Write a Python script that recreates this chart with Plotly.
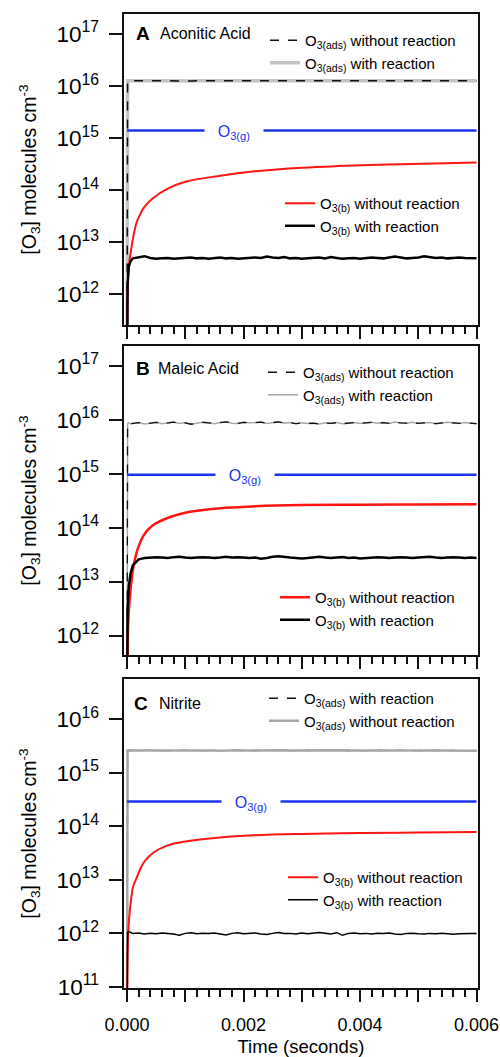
import plotly.graph_objects as go
import math

# ---------------- data ----------------
# common time grid for the noisy / flat series (seconds)
T_NOISE = [0, 0.00001, 0.00003, 0.00006,
           0.0001, 0.0002, 0.0003, 0.0004, 0.0005, 0.0006, 0.0007, 0.0008, 0.0009, 0.0010,
           0.0011, 0.0012, 0.0013, 0.0014, 0.0015, 0.0016, 0.0017, 0.0018, 0.0019, 0.0020,
           0.0021, 0.0022, 0.0023, 0.0024, 0.0025, 0.0026, 0.0027, 0.0028, 0.0029, 0.0030,
           0.0031, 0.0032, 0.0033, 0.0034, 0.0035, 0.0036, 0.0037, 0.0038, 0.0039, 0.0040,
           0.0041, 0.0042, 0.0043, 0.0044, 0.0045, 0.0046, 0.0047, 0.0048, 0.0049, 0.0050,
           0.0051, 0.0052, 0.0053, 0.0054, 0.0055, 0.0056, 0.0057, 0.0058, 0.0059, 0.0060]

# Panel A - Aconitic Acid
A_ADS = [1e10, 1.26e16, 1.26e16, 1.25e16,
         1.26e16, 1.27e16, 1.25e16, 1.26e16, 1.27e16, 1.26e16, 1.25e16, 1.26e16, 1.27e16, 1.26e16,
         1.25e16, 1.26e16, 1.26e16, 1.27e16, 1.25e16, 1.26e16, 1.26e16, 1.27e16, 1.26e16, 1.25e16,
         1.26e16, 1.27e16, 1.26e16, 1.26e16, 1.25e16, 1.26e16, 1.27e16, 1.26e16, 1.25e16, 1.26e16,
         1.26e16, 1.27e16, 1.26e16, 1.25e16, 1.26e16, 1.26e16, 1.27e16, 1.26e16, 1.25e16, 1.26e16,
         1.27e16, 1.26e16, 1.26e16, 1.25e16, 1.26e16, 1.27e16, 1.26e16, 1.25e16, 1.26e16, 1.26e16,
         1.27e16, 1.26e16, 1.25e16, 1.26e16, 1.26e16, 1.27e16, 1.26e16, 1.25e16, 1.26e16, 1.26e16]
A_B_RXN = [1e10, 1.5e12, 3.4e12, 4.3e12,
           4.9e12, 5.2e12, 5.4e12, 5.0e12, 4.8e12, 4.9e12, 5.0e12, 4.8e12, 4.9e12, 5.0e12,
           5.1e12, 4.9e12, 5.0e12, 4.8e12, 5.0e12, 5.1e12, 4.9e12, 5.0e12, 4.8e12, 4.9e12,
           5.0e12, 5.1e12, 5.0e12, 5.3e12, 5.1e12, 5.0e12, 5.2e12, 4.9e12, 5.0e12, 4.8e12,
           4.9e12, 5.0e12, 5.1e12, 4.9e12, 5.2e12, 5.0e12, 4.8e12, 4.9e12, 5.0e12, 4.8e12,
           4.9e12, 5.1e12, 5.0e12, 4.9e12, 5.1e12, 5.3e12, 5.1e12, 4.9e12, 5.0e12, 5.1e12,
           5.4e12, 5.2e12, 5.0e12, 5.1e12, 4.9e12, 5.0e12, 5.1e12, 5.0e12, 4.9e12, 4.9e12]
A_T_RED = [0, 0.00001, 0.00003, 0.00005, 0.00008, 0.00012, 0.00017, 0.00024, 0.0003, 0.00045,
           0.0007, 0.001, 0.0016, 0.0022, 0.003, 0.0036, 0.0047, 0.006]
A_B_NORXN = [1e10, 1.0e12, 3.2e12, 5.0e12, 8.3e12, 1.5e13, 2.5e13, 3.7e13, 4.8e13, 7.1e13,
             1.07e14, 1.45e14, 1.9e14, 2.3e14, 2.7e14, 2.9e14, 3.16e14, 3.4e14]
A_GAS = 1.4e15

# Panel B - Maleic Acid
B_ADS = [1e10, 8.6e15, 8.8e15, 8.5e15,
         8.6e15, 8.9e15, 8.4e15, 8.8e15, 9.0e15, 8.5e15, 8.7e15, 9.1e15, 8.6e15, 8.8e15,
         8.3e15, 8.7e15, 9.0e15, 8.8e15, 8.5e15, 8.9e15, 9.2e15, 8.7e15, 8.6e15, 9.0e15,
         8.8e15, 8.9e15, 9.1e15, 8.6e15, 8.8e15, 9.2e15, 8.7e15, 8.9e15, 8.5e15, 8.8e15,
         8.6e15, 8.7e15, 8.4e15, 8.8e15, 8.6e15, 8.9e15, 8.5e15, 8.7e15, 8.9e15, 8.6e15,
         8.8e15, 9.0e15, 8.7e15, 8.9e15, 8.6e15, 9.1e15, 8.8e15, 8.7e15, 9.0e15, 8.6e15,
         8.8e15, 8.9e15, 8.5e15, 8.7e15, 9.0e15, 8.8e15, 8.6e15, 8.9e15, 8.7e15, 8.5e15]
B_B_RXN = [1e10, 3.0e12, 8.0e12, 1.4e13,
           2.0e13, 2.6e13, 2.75e13, 2.8e13, 2.85e13, 2.8e13, 2.75e13, 2.85e13, 2.9e13, 2.8e13,
           2.75e13, 2.8e13, 2.85e13, 2.8e13, 2.75e13, 2.8e13, 2.9e13, 2.8e13, 2.85e13, 2.8e13,
           2.75e13, 2.8e13, 2.65e13, 2.75e13, 2.9e13, 2.95e13, 2.85e13, 2.8e13, 2.75e13, 2.7e13,
           2.75e13, 2.8e13, 2.9e13, 2.8e13, 2.75e13, 2.8e13, 2.85e13, 2.75e13, 2.8e13, 2.7e13,
           2.75e13, 2.8e13, 2.85e13, 2.8e13, 2.75e13, 2.8e13, 2.85e13, 2.8e13, 2.75e13, 2.8e13,
           2.85e13, 2.9e13, 2.8e13, 2.75e13, 2.8e13, 2.85e13, 2.8e13, 2.75e13, 2.8e13, 2.75e13]
B_T_RED = [0, 0.00002, 0.00005, 0.00008, 0.00011, 0.00017, 0.00024, 0.00031, 0.00045, 0.00074,
           0.001, 0.0016, 0.0022, 0.003, 0.004, 0.005, 0.006]
B_B_NORXN = [1e10, 1.6e12, 5.2e12, 1.1e13, 1.9e13, 3.6e13, 5.8e13, 7.9e13, 1.12e14, 1.58e14,
             1.9e14, 2.3e14, 2.5e14, 2.63e14, 2.68e14, 2.7e14, 2.72e14]
B_GAS = 9.6e14

# Panel C - Nitrite
C_ADS = [1e10, 2.6e15, 2.6e15, 2.58e15,
         2.62e15, 2.6e15, 2.57e15, 2.61e15, 2.6e15, 2.63e15, 2.59e15, 2.6e15, 2.62e15, 2.58e15,
         2.6e15, 2.61e15, 2.59e15, 2.63e15, 2.6e15, 2.58e15, 2.61e15, 2.6e15, 2.62e15, 2.59e15,
         2.6e15, 2.63e15, 2.6e15, 2.58e15, 2.61e15, 2.6e15, 2.62e15, 2.59e15, 2.6e15, 2.61e15,
         2.58e15, 2.6e15, 2.62e15, 2.6e15, 2.59e15, 2.61e15, 2.63e15, 2.6e15, 2.58e15, 2.6e15,
         2.61e15, 2.59e15, 2.6e15, 2.62e15, 2.6e15, 2.58e15, 2.61e15, 2.6e15, 2.63e15, 2.59e15,
         2.6e15, 2.57e15, 2.6e15, 2.61e15, 2.59e15, 2.6e15, 2.58e15, 2.6e15, 2.57e15, 2.58e15]
C_B_RXN = [1e10, 1.04e12, 1.08e12, 1.03e12,
           1.0e12, 1.02e12, 0.97e12, 1.01e12, 0.98e12, 1.02e12, 1.0e12, 0.97e12, 0.92e12, 1.0e12,
           1.03e12, 0.98e12, 1.01e12, 0.99e12, 1.02e12, 0.97e12, 0.93e12, 1.0e12, 1.03e12, 0.98e12,
           1.0e12, 1.02e12, 0.97e12, 0.95e12, 1.0e12, 1.04e12, 0.99e12, 1.0e12, 0.97e12, 1.02e12,
           0.98e12, 1.0e12, 1.04e12, 1.01e12, 0.97e12, 1.03e12, 0.92e12, 1.0e12, 1.02e12, 0.98e12,
           1.0e12, 0.97e12, 1.01e12, 0.99e12, 1.02e12, 0.97e12, 0.95e12, 1.0e12, 1.01e12, 0.98e12,
           0.97e12, 1.0e12, 0.98e12, 1.01e12, 0.97e12, 0.96e12, 0.98e12, 1.0e12, 0.99e12, 1.0e12]
C_T_RED = [0, 0.00002, 0.00005, 0.00008, 0.0001, 0.00017, 0.00024, 0.0003, 0.00045, 0.0007,
           0.001, 0.0016, 0.0022, 0.003, 0.004, 0.005, 0.006]
C_B_NORXN = [1e10, 1.0e12, 2.8e12, 5.2e12, 7.1e12, 1.12e13, 1.7e13, 2.2e13, 3.2e13, 4.4e13,
             5.2e13, 6.2e13, 6.8e13, 7.2e13, 7.5e13, 7.65e13, 7.8e13]
C_GAS = 2.9e14

PANEL_LETTERS = ["A", "B", "C"]
PANEL_NAMES = ["Aconitic Acid", "Maleic Acid", "Nitrite"]
X_TICKS = [0, 0.001, 0.002, 0.003, 0.004, 0.005, 0.006]
X_TICKTEXT = ["0.000", "", "0.002", "", "0.004", "", "0.006"]

# ---------------- style ----------------
FONT = "Liberation Sans, Arial, Helvetica, sans-serif"
BLUE = "#1c34f0"
RED = "#ff1414"
W, H = 500, 1057

def py(px):  # pixel row -> paper fraction
    return 1 - px / H

X_DOM = [123.5 / W, 478.3 / W]
Y_DOMS = [[py(325), py(14)], [py(655), py(346)], [py(988), py(679)]]
Y_RANGES = [[11.41, 17.385], [11.64, 17.37], [10.98, 16.75]]
X_RANGE = [-0.00006, 0.00603]

ADS = "O<sub>3(ads)</sub>"
BULK = "O<sub>3(b)</sub>"

fig = go.Figure()

def add(x, y, panel, legend, name, color, width, dash="solid", rank=1, show=True, shape="linear"):
    sfx = "" if panel == 0 else str(panel + 1)
    fig.add_trace(go.Scatter(
        x=x, y=y, mode="lines", name=name,
        line=dict(color=color, width=width, dash=dash, shape=shape),
        xaxis="x" + sfx, yaxis="y" + sfx,
        legend=legend, legendrank=rank, showlegend=show, hoverinfo="skip"))

# Panel A
add(T_NOISE, A_ADS, 0, "legend", ADS + " with reaction", "#c4c4c4", 3.5, rank=2)
add(T_NOISE, A_ADS, 0, "legend", ADS + " without reaction", "#111111", 1.5, "dash", rank=1)
add([0, 0.006], [A_GAS, A_GAS], 0, "legend", "gas", BLUE, 2.5, show=False)
add(A_T_RED, A_B_NORXN, 0, "legend2", BULK + " without reaction", RED, 2, rank=1, shape="spline")
add(T_NOISE, A_B_RXN, 0, "legend2", BULK + " with reaction", "#000000", 2.5, rank=2)

# Panel B
add(T_NOISE, B_ADS, 1, "legend3", ADS + " with reaction", "#a8a8a8", 1.5, rank=2)
add(T_NOISE, B_ADS, 1, "legend3", ADS + " without reaction", "#111111", 1.3, "dash", rank=1)
add([0, 0.006], [B_GAS, B_GAS], 1, "legend3", "gas", BLUE, 2.5, show=False)
add(B_T_RED, B_B_NORXN, 1, "legend4", BULK + " without reaction", RED, 2.5, rank=1, shape="spline")
add(T_NOISE, B_B_RXN, 1, "legend4", BULK + " with reaction", "#000000", 2.5, rank=2)

# Panel C
add(T_NOISE, C_ADS, 2, "legend5", ADS + " with reaction", "#111111", 1.3, "dash", rank=1)
add(T_NOISE, C_ADS, 2, "legend5", ADS + " without reaction", "#a8a8a8", 2.5, rank=2)
add([0, 0.006], [C_GAS, C_GAS], 2, "legend5", "gas", BLUE, 2.5, show=False)
add(C_T_RED, C_B_NORXN, 2, "legend6", BULK + " without reaction", RED, 2, rank=1, shape="spline")
add(T_NOISE, C_B_RXN, 2, "legend6", BULK + " with reaction", "#000000", 1.5, rank=2)

layout = dict(
    width=W, height=H, margin=dict(l=0, r=0, t=0, b=0),
    paper_bgcolor="white", plot_bgcolor="white",
    font=dict(family=FONT, size=15, color="black"),
    annotations=[],
)

ytitle = "[O<sub>3</sub>] molecules cm<sup>-3</sup>"
for i in range(3):
    sfx = "" if i == 0 else str(i + 1)
    xa = dict(
        domain=X_DOM, range=X_RANGE, anchor="y" + sfx,
        showline=True, mirror=True, linecolor="#111", linewidth=1.5,
        showgrid=False, zeroline=False,
        tickmode="array", tickvals=X_TICKS,
        ticks="outside", ticklen=12, tickwidth=1.5, tickcolor="#111",
        tickfont=dict(size=18),
        minor=dict(tickmode="linear", tick0=0, dtick=0.0002, ticks="outside",
                   ticklen=7, tickwidth=1.5, tickcolor="#111", showgrid=False),
        automargin=False,
    )
    if i == 2:
        xa["ticktext"] = X_TICKTEXT
        xa["ticklabelstandoff"] = 8
        xa["title"] = dict(text="Time (seconds)", font=dict(size=18.5), standoff=8)
    else:
        xa["showticklabels"] = False
    layout["xaxis" + sfx] = xa
    layout["yaxis" + sfx] = dict(
        domain=Y_DOMS[i], type="log", range=Y_RANGES[i], anchor="x" + sfx,
        showline=True, mirror=True, linecolor="#111", linewidth=1.5,
        showgrid=False, zeroline=False, dtick=1,
        exponentformat="power", showexponent="all",
        ticks="outside", ticklen=13, tickwidth=1.5, tickcolor="#111",
        tickfont=dict(size=18), ticklabelstandoff=6,
        title=dict(text=ytitle, font=dict(size=19.5)),
        automargin=False,
    )

# legends (positions in paper coords)
leg_common = dict(bgcolor="rgba(0,0,0,0)", borderwidth=0, font=dict(size=15, family=FONT),
                  xanchor="left", yanchor="top", tracegroupgap=0, itemclick=False)
layout["legend"] = dict(leg_common, x=265 / W, y=py(24))
layout["legend2"] = dict(leg_common, x=280 / W, y=py(187))
layout["legend3"] = dict(leg_common, x=263 / W, y=py(356))
layout["legend4"] = dict(leg_common, x=275 / W, y=py(581))
layout["legend5"] = dict(leg_common, x=264 / W, y=py(682))
layout["legend6"] = dict(leg_common, x=283 / W, y=py(861))

# panel labels
label_pos = [(134, 34, 158), (134, 368, 156), (132, 703, 157)]
for i, (xl, yl, xn) in enumerate(label_pos):
    layout["annotations"].append(dict(
        x=xl / W, y=py(yl), xref="paper", yref="paper", xanchor="left", yanchor="middle",
        text="<b>" + PANEL_LETTERS[i] + "</b>", showarrow=False, font=dict(size=19)))
    layout["annotations"].append(dict(
        x=xn / W, y=py(yl), xref="paper", yref="paper", xanchor="left", yanchor="middle",
        text=PANEL_NAMES[i], showarrow=False, font=dict(size=16)))

# O3(g) labels on the blue line (white box opens the gap in the line)
gas_vals = [A_GAS, B_GAS, C_GAS]
gas_x = [0.00183, 0.00203, 0.00213]
for i in range(3):
    sfx = "" if i == 0 else str(i + 1)
    layout["annotations"].append(dict(
        x=gas_x[i], y=math.log10(gas_vals[i]), xref="x" + sfx, yref="y" + sfx,
        text="O<sub>3(g)</sub>", showarrow=False, font=dict(size=16, color=BLUE),
        bgcolor="white", width=56, xanchor="center", yanchor="middle", yshift=-2))

fig.update_layout(**layout)
fig.write_html("out.html", post_script="document.body.style.margin='0';",
               config={"displayModeBar": False})
